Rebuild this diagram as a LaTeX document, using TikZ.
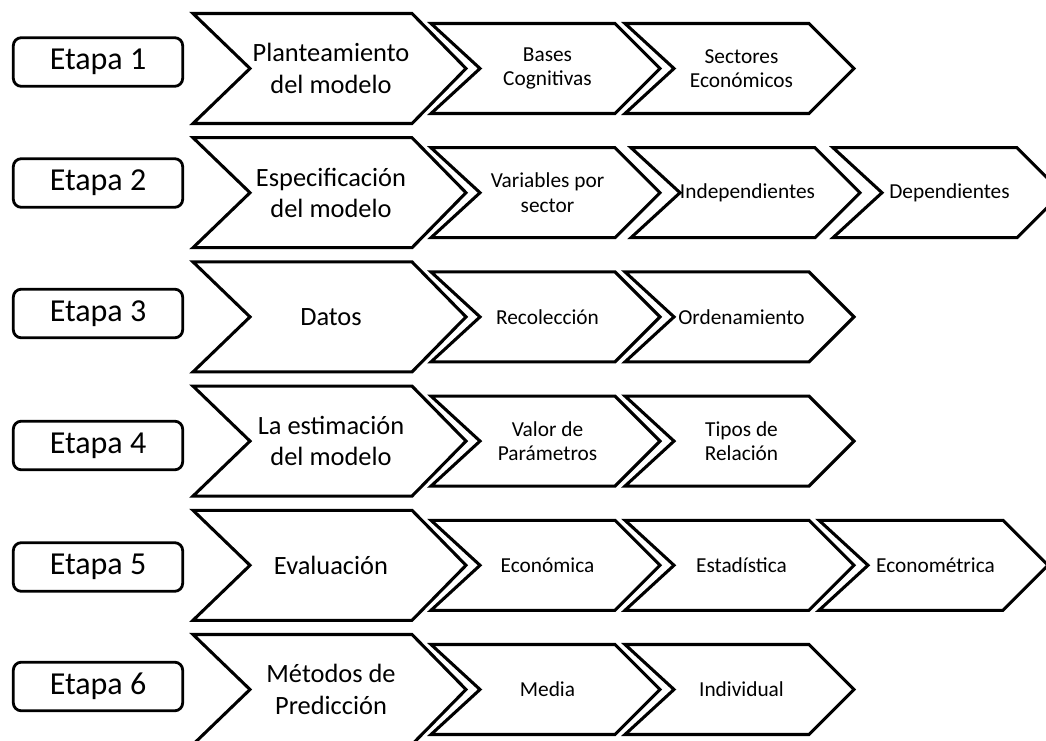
\documentclass[tikz,border=0pt]{standalone}
\usepackage{fontspec}
\setmainfont{Carlito}
\tikzset{
  chevline/.style={draw=black, line width=2.3pt, line join=miter},
  etapabox/.style={draw=black, line width=2.1pt, rounded corners=6pt,
    minimum width=127pt, minimum height=36.5pt, inner sep=0pt,
    font=\fontsize{24}{28}\selectfont},
  bigtext/.style={align=center, inner sep=0pt,
    font=\fontsize{19.8}{23.5}\selectfont},
  smalltext/.style={align=center, inner sep=0pt,
    font=\fontsize{16}{18.2}\selectfont}
}
% #1 name, #2 x left, #3 y centre, #4 width to corner, #5 half height,
% #6 notch depth, #7 tip depth, #8 style, #9 text
\newcommand\chevshape[9]{%
  \draw[chevline] (#2,#3-#5) -- ++(#4,0) -- ++(#7,#5) -- ++(-#7,#5)
     -- ++(-#4,0) -- ++(#6,-#5) -- cycle;
  \node[#8] (#1) at ({#2+(#6+#4)/2},#3) {#9};%
}
\newcommand\bigchev[3]{\chevshape{#1}{193}{#2}{219}{55}{57}{54}{bigtext}{#3}}
\newcommand\smallchev[4]{\chevshape{#1}{#2}{#3}{184}{45}{49}{45}{smalltext}{#4}}
\begin{document}
\begin{tikzpicture}[x=0.75pt,y=-0.75pt]
\clip (0,0) rectangle (1046,741);
\fill[white] (0,0) rectangle (1046,741);

% Stage boxes
\node[etapabox] (e1) at (98,62) {Etapa 1};
\node[etapabox] (e2) at (98,183) {Etapa 2};
\node[etapabox] (e3) at (98,313.5) {Etapa 3};
\node[etapabox] (e4) at (98,445.5) {Etapa 4};
\node[etapabox] (e5) at (98,567) {Etapa 5};
\node[etapabox] (e6) at (98,686.5) {Etapa 6};

% Row 1
\bigchev{b1}{68.5}{Planteamiento\\del modelo}
\smallchev{c11}{431}{68.5}{Bases\\Cognitivas}
\smallchev{c12}{625}{68.5}{Sectores\\Económicos}

% Row 2
\bigchev{b2}{192.7}{Especificación\\del modelo}
\smallchev{c21}{431}{192.7}{Variables por\\sector}
\smallchev{c22}{631}{192.7}{Independientes}
\smallchev{c23}{833}{192.7}{Dependientes}

% Row 3
\bigchev{b3}{316.9}{Datos}
\smallchev{c31}{431}{316.9}{Recolección}
\smallchev{c32}{625}{316.9}{Ordenamiento}

% Row 4
\bigchev{b4}{441.1}{La estimación\\del modelo}
\smallchev{c41}{431}{441.1}{Valor de\\Parámetros}
\smallchev{c42}{625}{441.1}{Tipos de\\Relación}

% Row 5
\bigchev{b5}{565.3}{Evaluación}
\smallchev{c51}{431}{565.3}{Económica}
\smallchev{c52}{625}{565.3}{Estadística}
\smallchev{c53}{819}{565.3}{Econométrica}

% Row 6
\bigchev{b6}{689.5}{Métodos de\\Predicción}
\smallchev{c61}{431}{689.5}{Media}
\smallchev{c62}{625}{689.5}{Individual}
\end{tikzpicture}
\end{document}
